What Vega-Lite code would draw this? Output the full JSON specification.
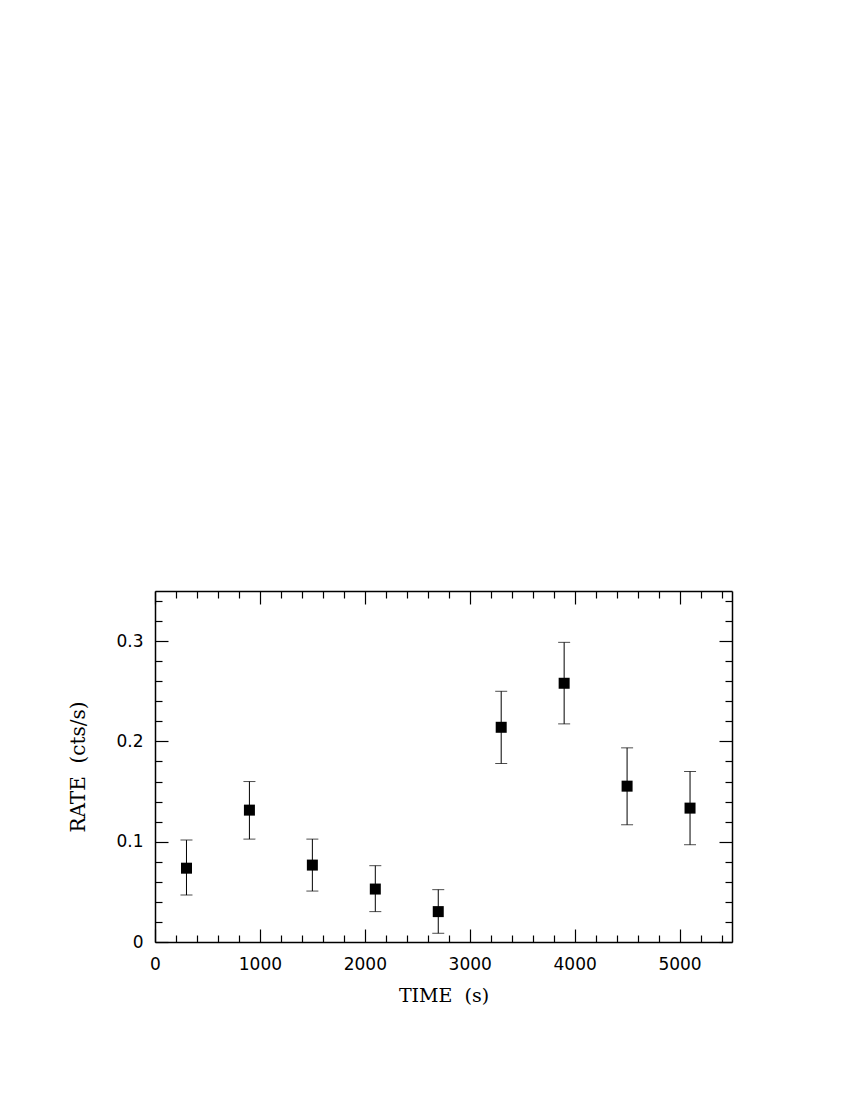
{
  "$schema": "https://vega.github.io/schema/vega-lite/v6.json",
  "width": 577,
  "height": 351,
  "autosize": {"type": "none"},
  "padding": {"left": 155, "top": 591, "right": 118, "bottom": 158},
  "background": "white",
  "config": {
    "view": {"stroke": null},
    "axis": {
      "domainColor": "black",
      "domainWidth": 1.5,
      "tickColor": "black",
      "tickWidth": 1.2,
      "grid": false,
      "labelColor": "black",
      "titleColor": "black",
      "labelFont": "DejaVu Sans",
      "labelFontSize": 17,
      "titleFont": "DejaVu Serif",
      "titleFontSize": 19,
      "titleFontWeight": "normal"
    }
  },
  "data": {
    "values": [
      {"time": 300, "rate": 0.0736, "lo": 0.0468, "hi": 0.1016},
      {"time": 900, "rate": 0.1315, "lo": 0.1026, "hi": 0.1600},
      {"time": 1500, "rate": 0.0767, "lo": 0.0508, "hi": 0.1026},
      {"time": 2100, "rate": 0.0528, "lo": 0.0303, "hi": 0.0761},
      {"time": 2700, "rate": 0.0303, "lo": 0.0087, "hi": 0.0522},
      {"time": 3300, "rate": 0.2141, "lo": 0.1780, "hi": 0.2500},
      {"time": 3900, "rate": 0.2580, "lo": 0.2175, "hi": 0.2988},
      {"time": 4500, "rate": 0.1554, "lo": 0.1169, "hi": 0.1936},
      {"time": 5100, "rate": 0.1335, "lo": 0.0970, "hi": 0.1700}
    ]
  },
  "layer": [
    {
      "mark": {"type": "rule", "color": "black", "strokeWidth": 1},
      "encoding": {
        "x": {
          "field": "time", "type": "quantitative",
          "scale": {"domain": [0, 5500], "nice": false, "zero": false},
          "axis": {
            "orient": "bottom",
            "title": "TIME\u00a0\u00a0(s)",
            "values": [0,200,400,600,800,1000,1200,1400,1600,1800,2000,2200,2400,2600,2800,3000,3200,3400,3600,3800,4000,4200,4400,4600,4800,5000,5200,5400],
            "labelExpr": "datum.value % 1000 === 0 ? format(datum.value, 'd') : ''",
            "tickSize": {"condition": {"test": "datum.value % 1000 === 0", "value": -13}, "value": -7},
            "labelPadding": 27,
            "labelFlush": false,
            "labelOverlap": false,
            "titlePadding": 8
          }
        },
        "y": {
          "field": "lo", "type": "quantitative",
          "scale": {"domain": [0, 0.35], "nice": false, "zero": false},
          "axis": {
            "orient": "left",
            "title": "RATE\u00a0\u00a0(cts/s)",
            "values": [0,0.02,0.04,0.06,0.08,0.1,0.12,0.14,0.16,0.18,0.2,0.22,0.24,0.26,0.28,0.3,0.32,0.34],
            "labelExpr": "indexof([0,0.1,0.2,0.3], datum.value) >= 0 ? format(datum.value, '') : ''",
            "tickSize": {"condition": {"test": "indexof([0,0.1,0.2,0.3], datum.value) >= 0", "value": -13}, "value": -7},
            "labelPadding": 25,
            "labelFlush": false,
            "labelOverlap": false,
            "titleFontSize": 20,
            "titlePadding": 27
          }
        },
        "y2": {"field": "hi"}
      }
    },
    {
      "mark": {"type": "tick", "color": "black", "orient": "horizontal", "size": 12, "thickness": 1},
      "encoding": {
        "x": {"field": "time", "type": "quantitative", "axis": null},
        "y": {"field": "lo", "type": "quantitative", "axis": null}
      }
    },
    {
      "mark": {"type": "tick", "color": "black", "orient": "horizontal", "size": 12, "thickness": 1},
      "encoding": {
        "x": {"field": "time", "type": "quantitative", "axis": null},
        "y": {"field": "hi", "type": "quantitative", "axis": null}
      }
    },
    {
      "mark": {"type": "point", "shape": "square", "filled": true, "color": "black", "opacity": 1, "size": 121},
      "encoding": {
        "x": {"field": "time", "type": "quantitative",
          "axis": {
            "orient": "top",
            "title": null,
            "labels": false,
            "values": [0,200,400,600,800,1000,1200,1400,1600,1800,2000,2200,2400,2600,2800,3000,3200,3400,3600,3800,4000,4200,4400,4600,4800,5000,5200,5400],
            "tickSize": {"condition": {"test": "datum.value % 1000 === 0", "value": -13}, "value": -7}
          }
        },
        "y": {"field": "rate", "type": "quantitative",
          "axis": {
            "orient": "right",
            "title": null,
            "labels": false,
            "values": [0,0.02,0.04,0.06,0.08,0.1,0.12,0.14,0.16,0.18,0.2,0.22,0.24,0.26,0.28,0.3,0.32,0.34],
            "tickSize": {"condition": {"test": "indexof([0,0.1,0.2,0.3], datum.value) >= 0", "value": -13}, "value": -7}
          }
        }
      }
    }
  ],
  "resolve": {"axis": {"x": "independent", "y": "independent"}}
}
